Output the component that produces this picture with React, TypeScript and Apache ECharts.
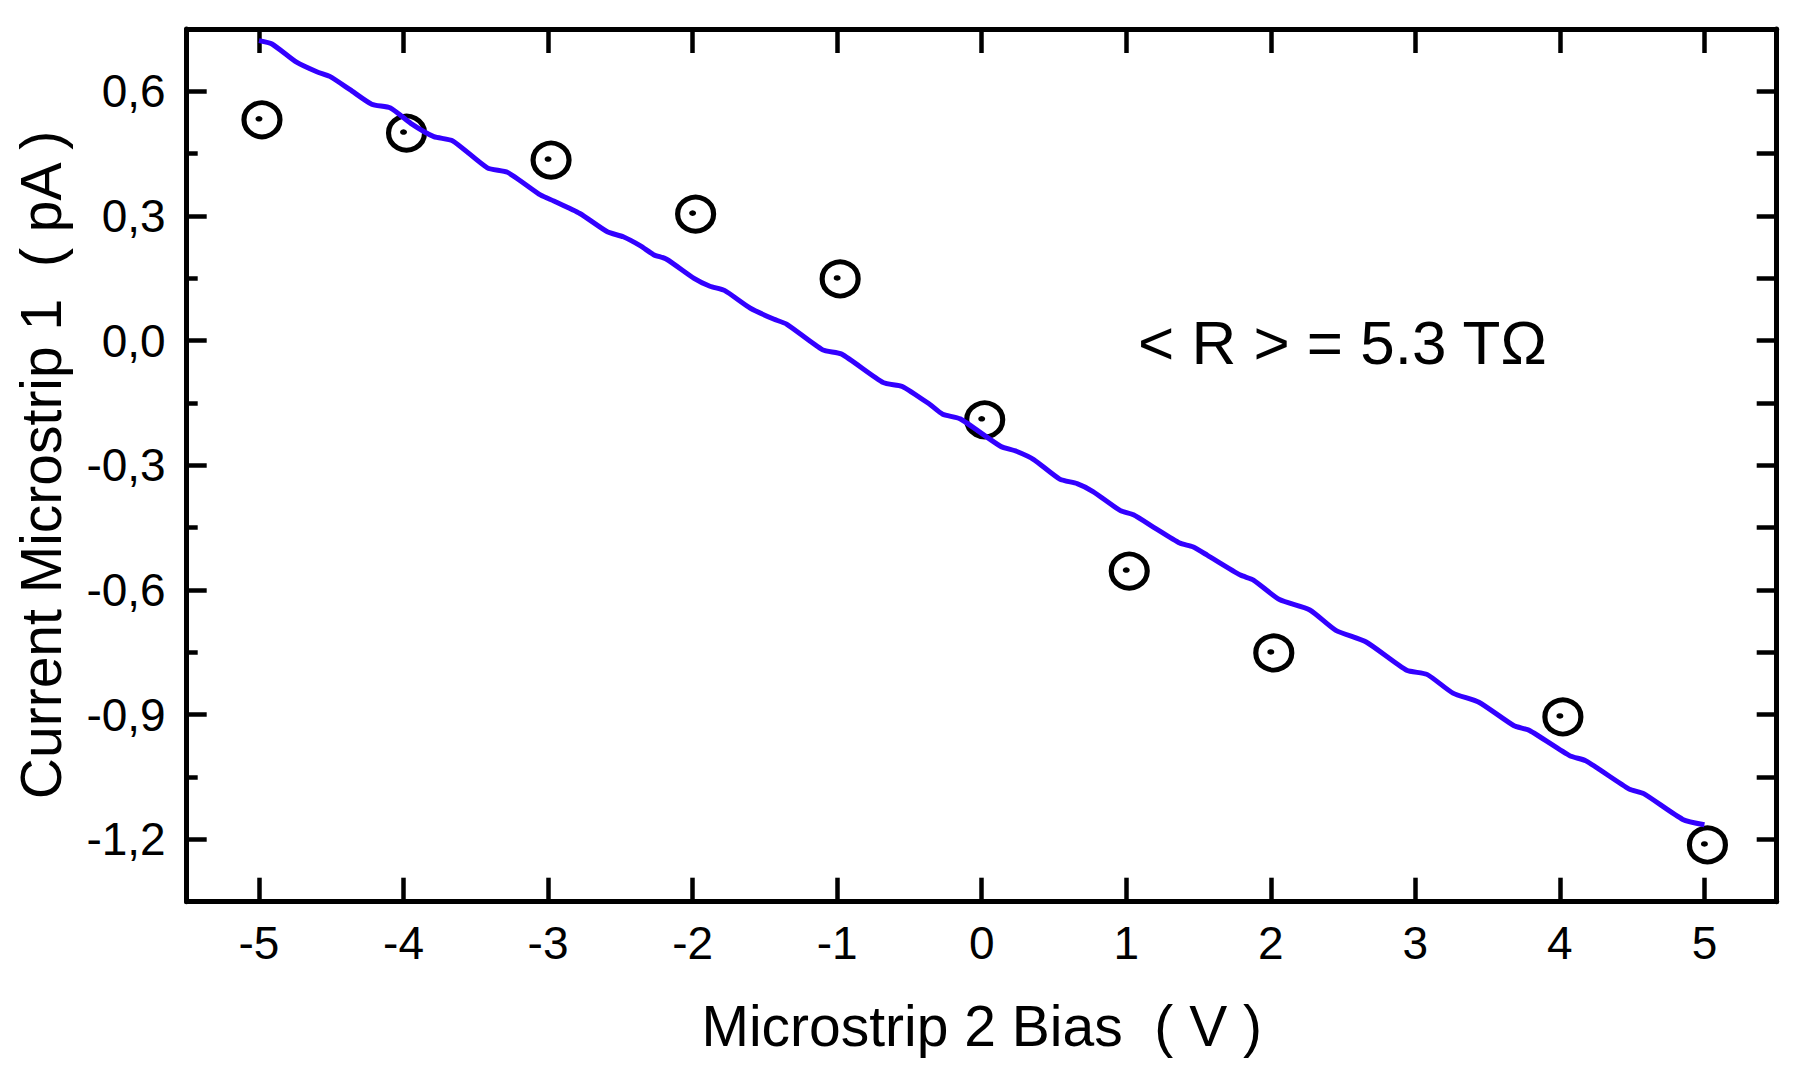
import React, { useEffect, useRef } from "react";
import * as echarts from "echarts";

// Measured points (⊙ markers)
const pointX = [-5, -4, -3, -2, -1, 0, 1, 2, 4, 5];
const pointY = [0.534, 0.502, 0.437, 0.307, 0.151, -0.188, -0.552, -0.749, -0.903, -1.211];

// Blue fit curve
const fitX = [
  -5.0, -4.91, -4.74, -4.6, -4.51, -4.37, -4.22, -4.09, -3.95, -3.79, -3.66, -3.42, -3.28,
  -3.05, -2.96, -2.78, -2.59, -2.48, -2.36, -2.27, -2.18, -1.99, -1.88, -1.78, -1.6, -1.44,
  -1.35, -1.1, -0.97, -0.68, -0.55, -0.36, -0.27, -0.15, 0.13, 0.24, 0.36, 0.54, 0.66, 0.77,
  0.96, 1.05, 1.19, 1.37, 1.46, 1.56, 1.79, 1.88, 2.06, 2.27, 2.45, 2.66, 2.94, 3.08, 3.26,
  3.44, 3.68, 3.79, 4.07, 4.18, 4.48, 4.58, 4.85, 5.0,
];
const fitY = [
  0.722, 0.714, 0.67, 0.647, 0.636, 0.604, 0.569, 0.56, 0.523, 0.491, 0.481, 0.416, 0.405,
  0.35, 0.336, 0.306, 0.262, 0.25, 0.228, 0.207, 0.196, 0.15, 0.131, 0.121, 0.078, 0.052,
  0.04, -0.022, -0.032, -0.101, -0.11, -0.153, -0.177, -0.188, -0.254, -0.266, -0.286,
  -0.333, -0.344, -0.363, -0.409, -0.419, -0.449, -0.487, -0.496, -0.516, -0.564, -0.576,
  -0.623, -0.648, -0.697, -0.725, -0.793, -0.803, -0.848, -0.87, -0.926, -0.938, -0.999,
  -1.011, -1.079, -1.09, -1.152, -1.165,
];

const xTicks = [-5, -4, -3, -2, -1, 0, 1, 2, 3, 4, 5];
const yMajorTicks = [-1.2, -0.9, -0.6, -0.3, 0, 0.3, 0.6];
const yMinorTicks = [-1.05, -0.75, -0.45, -0.15, 0.15, 0.45];
const yRightTicks = [-1.2, -1.05, -0.9, -0.75, -0.6, -0.45, -0.3, -0.15, 0, 0.15, 0.3, 0.45, 0.6];

const xTitle = "Microstrip 2 Bias  ( V )";
const yTitle = "Current Microstrip 1  ( pA )";
const annotation = "< R > = 5.3 TΩ";

const FONT = "'Liberation Sans', Arial, Helvetica, sans-serif";
const BLACK = "#000000";

export default function App() {
  const ref = useRef<HTMLDivElement>(null);

  useEffect(() => {
    if (!ref.current) return;
    const chart = echarts.init(ref.current, undefined, { renderer: "svg" });

    const axisLine = { show: true, onZero: false, lineStyle: { color: BLACK, width: 5 } };

    const option: any = {
      animation: false,
      backgroundColor: "#ffffff",
      grid: { left: 186.7, right: 17.3, top: 29, bottom: 167.3, containLabel: false },
      xAxis: [
        {
          type: "value",
          min: -5.5,
          max: 5.5,
          position: "bottom",
          axisLine,
          axisTick: {
            show: true,
            inside: true,
            length: 24,
            customValues: xTicks,
            lineStyle: { color: BLACK, width: 4.5 },
          },
          axisLabel: {
            show: true,
            customValues: xTicks,
            fontSize: 46,
            fontFamily: FONT,
            color: BLACK,
            margin: 18,
            formatter: (v: number) => String(v),
          },
          splitLine: { show: false },
        },
        {
          type: "value",
          min: -5.5,
          max: 5.5,
          position: "top",
          axisLine,
          axisTick: {
            show: true,
            inside: true,
            length: 24,
            customValues: xTicks,
            lineStyle: { color: BLACK, width: 4.5 },
          },
          axisLabel: { show: false },
          splitLine: { show: false },
        },
      ],
      yAxis: [
        {
          type: "value",
          min: -1.35,
          max: 0.75,
          position: "left",
          axisLine,
          axisTick: {
            show: true,
            inside: true,
            length: 20,
            customValues: yMajorTicks,
            lineStyle: { color: BLACK, width: 4.5 },
          },
          axisLabel: {
            show: true,
            customValues: yMajorTicks,
            fontSize: 46,
            fontFamily: FONT,
            color: BLACK,
            margin: 21,
            formatter: (v: number) => Number(v).toFixed(1).replace(".", ","),
          },
          splitLine: { show: false },
        },
        {
          type: "value",
          min: -1.35,
          max: 0.75,
          position: "left",
          axisLine: { show: false, onZero: false },
          axisTick: {
            show: true,
            inside: true,
            length: 11,
            customValues: yMinorTicks,
            lineStyle: { color: BLACK, width: 4.5 },
          },
          axisLabel: { show: false },
          splitLine: { show: false },
        },
        {
          type: "value",
          min: -1.35,
          max: 0.75,
          position: "right",
          axisLine,
          axisTick: {
            show: true,
            inside: true,
            length: 20,
            customValues: yRightTicks,
            lineStyle: { color: BLACK, width: 4.5 },
          },
          axisLabel: { show: false },
          splitLine: { show: false },
        },
      ],
      series: [
        {
          type: "scatter",
          xAxisIndex: 0,
          yAxisIndex: 0,
          data: pointX.map((x, i) => [x, pointY[i]]),
          symbol: "circle",
          symbolSize: [36, 34],
          symbolOffset: [3, 1],
          itemStyle: { color: "rgba(0,0,0,0)", borderColor: BLACK, borderWidth: 5, opacity: 1 },
          z: 2,
          silent: true,
        },
        {
          type: "scatter",
          xAxisIndex: 0,
          yAxisIndex: 0,
          data: pointX.map((x, i) => [x, pointY[i]]),
          symbol: "circle",
          symbolSize: [7, 5.5],
          itemStyle: { color: BLACK, opacity: 1 },
          z: 2,
          silent: true,
        },
        {
          type: "line",
          xAxisIndex: 0,
          yAxisIndex: 0,
          data: fitX.map((x, i) => [x, fitY[i]]),
          showSymbol: false,
          symbol: "none",
          smooth: 0.2,
          lineStyle: { color: "#3300ff", width: 5, opacity: 1 },
          z: 3,
          silent: true,
        },
      ],
      graphic: [
        {
          type: "text",
          x: 981.7,
          y: 1026,
          style: {
            text: xTitle,
            font: `57px ${FONT}`,
            fill: BLACK,
            textAlign: "center",
            textVerticalAlign: "middle",
          },
        },
        {
          type: "text",
          x: 41,
          y: 465,
          rotation: Math.PI / 2,
          style: {
            text: yTitle,
            font: `57px ${FONT}`,
            fill: BLACK,
            textAlign: "center",
            textVerticalAlign: "middle",
          },
        },
        {
          type: "text",
          x: 1138,
          y: 342,
          style: {
            text: annotation,
            font: `62px ${FONT}`,
            fill: BLACK,
            textAlign: "left",
            textVerticalAlign: "middle",
          },
        },
      ],
    };

    chart.setOption(option);
    return () => chart.dispose();
  }, []);

  return (
    <div
      ref={ref}
      style={{ position: "absolute", left: 0, top: 0, width: 1794, height: 1069, background: "#fff" }}
    />
  );
}
